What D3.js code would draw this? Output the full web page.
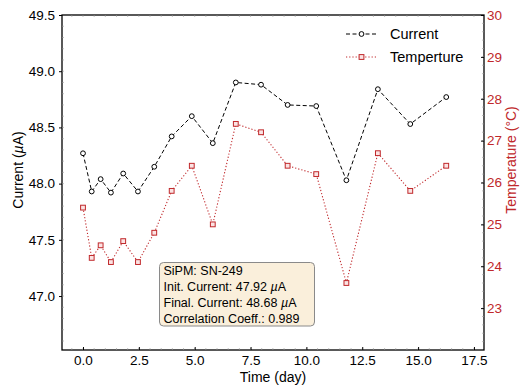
<!DOCTYPE html>
<html><head><meta charset="utf-8">
<script src="https://cdn.jsdelivr.net/npm/d3@7"></script>
<style>body{margin:0;background:#fff}svg{display:block;font-family:"Liberation Sans",Arial,Helvetica,sans-serif}</style>
</head><body><svg id="c" width="521" height="392"></svg>
<script>
const days = [0.0,0.39,0.79,1.25,1.80,2.46,3.19,3.97,4.87,5.81,6.84,7.97,9.16,10.44,11.79,13.20,14.65,16.26];
const current = [48.27,47.93,48.04,47.92,48.09,47.93,48.15,48.42,48.60,48.36,48.90,48.88,48.70,48.69,48.03,48.84,48.53,48.77];
const temperature = [25.4,24.2,24.5,24.1,24.6,24.1,24.8,25.8,26.4,25.0,27.4,27.2,26.4,26.2,23.6,26.7,25.8,26.4];
const xTicks = [0,2.5,5,7.5,10,12.5,15,17.5];
const yLeftTicks = [47.0,47.5,48.0,48.5,49.0,49.5];
const yRightTicks = [23,24,25,26,27,28,29,30];
const infoLines = ["SiPM: SN-249","Init. Current: 47.92 |µ|A","Final. Current: 48.68 |µ|A","Correlation Coeff.: 0.989"];

const L=62,R=484,T=15,B=350;
const RED="#c0282b";
const svg=d3.select("#c");
const x=d3.scaleLinear().domain([-0.94,17.95]).range([L,R]);
const yL=d3.scaleLinear().domain([46.52,49.5]).range([B,T]);
const yR=d3.scaleLinear().domain([22,30]).range([B,T]);

// frame
svg.append("rect").attr("x",L).attr("y",T).attr("width",R-L).attr("height",B-T)
  .attr("fill","none").attr("stroke","#000").attr("stroke-width",1.3);

// minor ticks
const minorX=d3.range(-0.5,18,0.5).filter(v=>v>x.domain()[0]&&v<x.domain()[1]);
svg.append("g").selectAll("line").data(minorX).join("line")
  .attr("x1",d=>x(d)).attr("x2",d=>x(d)).attr("y1",B).attr("y2",B-2).attr("stroke","#999").attr("stroke-width",0.6);
svg.append("g").selectAll("line").data(minorX).join("line")
  .attr("x1",d=>x(d)).attr("x2",d=>x(d)).attr("y1",T).attr("y2",T+2).attr("stroke","#999").attr("stroke-width",0.6);
const minorY=d3.range(46.6,49.5,0.1);
svg.append("g").selectAll("line").data(minorY).join("line")
  .attr("x1",L).attr("x2",L+2).attr("y1",d=>yL(d)).attr("y2",d=>yL(d)).attr("stroke","#999").attr("stroke-width",0.6);
const minorR=d3.range(22.2,30,0.2);
svg.append("g").selectAll("line").data(minorR).join("line")
  .attr("x1",R).attr("x2",R-2).attr("y1",d=>yR(d)).attr("y2",d=>yR(d)).attr("stroke","#999").attr("stroke-width",0.6);

// axes
const gx=svg.append("g").attr("transform",`translate(0,${B})`)
  .call(d3.axisBottom(x).tickValues(xTicks).tickFormat(d3.format(".1f")).tickSizeInner(-3).tickSizeOuter(0).tickPadding(5));
const gl=svg.append("g").attr("transform",`translate(${L},0)`)
  .call(d3.axisLeft(yL).tickValues(yLeftTicks).tickFormat(d3.format(".1f")).tickSize(3).tickPadding(4));
const gr=svg.append("g").attr("transform",`translate(${R},0)`)
  .call(d3.axisRight(yR).tickValues(yRightTicks).tickFormat(d3.format("d")).tickSize(-3).tickPadding(3));
[gx,gl,gr].forEach(g=>{g.select(".domain").remove();g.selectAll("text").attr("font-size",13.5).attr("font-family","Liberation Sans,Arial,sans-serif");});
gx.selectAll("line").attr("stroke","#000");
gl.selectAll("line").attr("stroke","#000");
gr.selectAll("line").attr("stroke","#000");
gx.selectAll("text").attr("fill","#000");
gl.selectAll("text").attr("fill","#000");
gr.selectAll("text").attr("fill",RED);

// labels
svg.append("text").attr("x",273).attr("y",382).attr("text-anchor","middle").attr("font-size",14).text("Time (day)");
const yl=svg.append("text").attr("transform","translate(23,170) rotate(-90)").attr("text-anchor","middle").attr("font-size",14);
yl.append("tspan").text("Current (");yl.append("tspan").attr("font-style","italic").text("µ");yl.append("tspan").text("A)");
svg.append("text").attr("transform","translate(516,160) rotate(-90)").attr("text-anchor","middle").attr("font-size",14).attr("fill",RED).text("Temperature (°C)");

// series
const idx=d3.range(days.length);
svg.append("path").datum(idx).attr("fill","none").attr("stroke","#000").attr("stroke-width",1).attr("stroke-dasharray","4,2.5")
  .attr("d",d3.line().x(i=>x(days[i])).y(i=>yL(current[i])));
svg.append("path").datum(idx).attr("fill","none").attr("stroke",RED).attr("stroke-width",1.1).attr("stroke-dasharray","1.2,2")
  .attr("d",d3.line().x(i=>x(days[i])).y(i=>yR(temperature[i])));
svg.append("g").selectAll("circle").data(idx).join("circle")
  .attr("cx",i=>x(days[i])).attr("cy",i=>yL(current[i])).attr("r",2.4).attr("fill","#fff").attr("stroke","#000").attr("stroke-width",1);
svg.append("g").selectAll("rect").data(idx).join("rect")
  .attr("x",i=>x(days[i])-2.4).attr("y",i=>yR(temperature[i])-2.4).attr("width",4.8).attr("height",4.8)
  .attr("fill","#fbe3e3").attr("stroke",RED).attr("stroke-width",1);

// legend
const lg=svg.append("g");
lg.append("line").attr("x1",346).attr("x2",377).attr("y1",34).attr("y2",34).attr("stroke","#000").attr("stroke-dasharray","4,2.5");
lg.append("circle").attr("cx",361.5).attr("cy",34).attr("r",2.4).attr("fill","#fff").attr("stroke","#000");
lg.append("text").attr("x",390).attr("y",39).attr("font-size",14.5).text("Current");
lg.append("line").attr("x1",346).attr("x2",377).attr("y1",57).attr("y2",57).attr("stroke",RED).attr("stroke-dasharray","1.2,2");
lg.append("rect").attr("x",359.1).attr("y",54.6).attr("width",4.8).attr("height",4.8).attr("fill","#fbe3e3").attr("stroke",RED);
lg.append("text").attr("x",390).attr("y",62).attr("font-size",14.5).text("Temperture");

// info box
svg.append("rect").attr("x",159.5).attr("y",262.5).attr("width",155).attr("height",63.5).attr("rx",4)
  .attr("fill","#faefdb").attr("stroke","#8a8a8a").attr("stroke-width",1);
infoLines.forEach((s,k)=>{
  const t=svg.append("text").attr("x",163.5).attr("y",275+k*16).attr("font-size",12.5);
  s.split("|").forEach((p,j)=>{t.append("tspan").attr("font-style",j%2?"italic":null).text(p);});
});
</script></body></html>
